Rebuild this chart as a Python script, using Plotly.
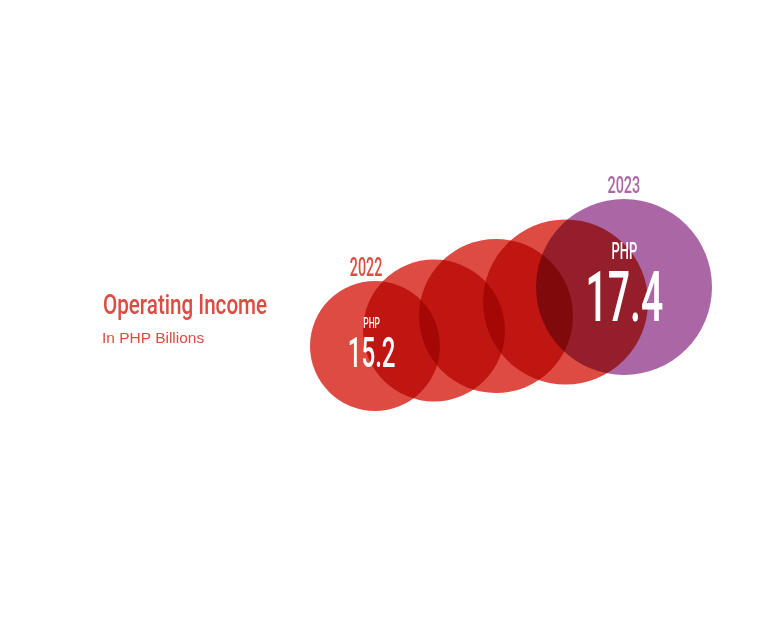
import json
import plotly.graph_objects as go

# ---- data ----
years = ["2022", "2023"]
values = [15.2, 17.4]
unit = "PHP"
title = "Operating Income"
subtitle = "In PHP Billions"

# ---- layout geometry (pixel space of the 768x635 canvas) ----
W, H = 768, 635
bubble_x = [375, 434, 496, 565.5, 624]
bubble_y = [346, 330.5, 316, 302, 287]
bubble_r = [65, 71, 77, 82.5, 88]
RED = "#DD4B42"
PURPLE = "#AB67A5"
bubble_colors = [RED, RED, RED, RED, PURPLE]

fig = go.Figure()
fig.add_trace(go.Scatter(
    x=bubble_x, y=bubble_y, mode="markers",
    marker=dict(size=[2 * r for r in bubble_r], color=bubble_colors,
                opacity=1, line=dict(width=0)),
    hoverinfo="skip", showlegend=False,
))

FONT = "Roboto, Liberation Sans, Arial, sans-serif"
annotations = []
scales = []  # (scaleX, origin) per annotation


def add(text, x, y, size, color, xanchor="center", scale=1.0, weight=500,
        family=FONT):
    annotations.append(dict(
        text=text, x=x, y=y, xref="x", yref="y", showarrow=False,
        xanchor=xanchor, yanchor="middle", borderpad=0,
        font=dict(family=family, size=size, color=color, weight=weight),
    ))
    scales.append([scale, "left" if xanchor == "left" else "center"])


def value_block(v, unit_size, num_size):
    return (f'<span style="font-size:{unit_size}px">{unit}</span><br>'
            f'<span style="font-size:{num_size}px">{v:.1f}</span>')


add(title, 102, 304, 27.5, RED, xanchor="left", scale=0.75)
add(subtitle, 101, 337, 15.5, RED, xanchor="left", scale=1.0, weight=400,
    family="Liberation Sans, Arial, sans-serif")
add(years[0], bubble_x[0] - 9, 266.5, 26.5, RED, scale=0.54)
add(years[1], bubble_x[4], 184.5, 24.5, PURPLE, scale=0.59)
add(value_block(values[0], 15, 43), bubble_x[0] - 4, 345.5, 30, "white", scale=0.56)
add(value_block(values[1], 23, 70), bubble_x[4], 288, 47.7, "white", scale=0.56)

fig.update_layout(
    width=W, height=H,
    margin=dict(l=0, r=0, t=0, b=0),
    paper_bgcolor="white", plot_bgcolor="white",
    xaxis=dict(range=[0, W], visible=False, fixedrange=True),
    yaxis=dict(range=[H, 0], visible=False, fixedrange=True),
    annotations=annotations,
    hovermode=False,
)

post = """
var gd = document.getElementById('{plot_id}');
var scales = %s;
function styleIt() {
  gd.querySelectorAll('.scatterlayer .point').forEach(function (p) {
    p.style.mixBlendMode = 'multiply';
  });
  gd.querySelectorAll('.annotation').forEach(function (a) {
    var i = parseInt(a.getAttribute('data-index'));
    var s = scales[i];
    if (!s) return;
    var t = a.querySelector('text.annotation-text');
    if (!t) return;
    t.style.transformBox = 'fill-box';
    t.style.transformOrigin = s[1] + ' center';
    t.style.transform = 'scaleX(' + s[0] + ')';
  });
}
styleIt();
gd.on('plotly_afterplot', styleIt);
""" % json.dumps(scales)

fig.write_html("out.html", config={"staticPlot": True}, post_script=post)
